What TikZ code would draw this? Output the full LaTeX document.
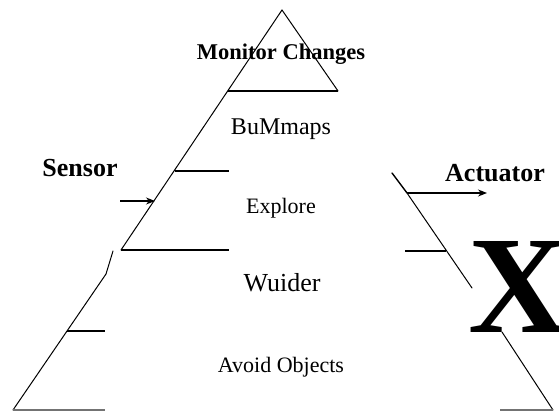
\documentclass[tikz,border=0pt]{standalone}
\usepackage{fontspec}
\setmainfont{Liberation Serif}
\usetikzlibrary{arrows.meta}
\begin{document}
\begin{tikzpicture}[x=1pt,y=-1pt,
  edge/.style={line width=1pt,line cap=round},
  rung/.style={line width=1.3pt},
  base/.style={line width=2pt,draw=black!55},
  signal/.style={line width=1.2pt,-{Stealth[length=9pt,width=7pt]}},
  lbl/.style={inner sep=0pt,anchor=base,font=\fontsize{22}{24}\selectfont},
  bold/.style={inner sep=0pt,anchor=base,font=\bfseries\fontsize{26}{28}\selectfont}]
\useasboundingbox (0,0) rectangle (559,414);

% corner points of the layered triangle
\coordinate (apex) at (282,10);
\coordinate (t1) at (228,91);
\coordinate (t1r) at (338,91);
\coordinate (t2) at (175,171);
\coordinate (t2r) at (229,171);
\coordinate (t3) at (121,250);
\coordinate (t3r) at (229,250);
\coordinate (l0) at (113,251);
\coordinate (l1) at (106,274);
\coordinate (l2) at (67,331);
\coordinate (l2r) at (105,331);
\coordinate (l3) at (13,410);
\coordinate (l3r) at (105,410);
\coordinate (r0) at (392,173);
\coordinate (r1) at (407,193);
\coordinate (r2) at (446,251);
\coordinate (r2l) at (405,251);
\coordinate (r3) at (472,288);
\coordinate (r4) at (502,332);
\coordinate (r5) at (553,410);
\coordinate (r5l) at (500,410);
\coordinate (sin) at (120,201);
\coordinate (sout) at (155,201);
\coordinate (aout) at (487,193);

% left flank and layer rungs
\draw[edge] (apex) -- (t3);
\draw[edge] (apex) -- (t1r);
\draw[rung] (t1) -- (t1r);
\draw[rung] (t2) -- (t2r);
\draw[rung] (t3) -- (t3r);
\draw[edge] (l0) -- (l1) -- (l3);
\draw[rung] (l2) -- (l2r);
\draw[base] (l3) -- (l3r);

% right flank
\draw[edge,line width=1.4pt] (r0) -- (r1);
\draw[edge] (r1) -- (r3);
\draw[rung] (r2l) -- (r2);
\draw[edge] (r4) -- (r5);
\draw[base] (r5l) -- (r5);

% input and output arrows
\draw[signal] (sin) -- (sout);
\draw[signal] (r1) -- (aout);

% labels
\node[bold,font=\bfseries\fontsize{22.5}{24}\selectfont] (mon) at (281,60) {Monitor Changes};
\node[lbl,font=\fontsize{24}{26}\selectfont] (bum) at (281,135) {BuMmaps};
\node[bold] (sen) at (80,177) {Sensor};
\node[lbl] (exp) at (281,213) {Explore};
\node[bold] (act) at (495,182) {Actuator};
\node[lbl,font=\fontsize{26}{28}\selectfont] (wui) at (282,291) {Wuider};
\node[lbl] (avo) at (281,372) {Avoid Objects};
\node[inner sep=0pt,anchor=base west,font=\bfseries\fontsize{139}{140}\selectfont] (xx) at (468,332) {X};
\end{tikzpicture}
\end{document}
